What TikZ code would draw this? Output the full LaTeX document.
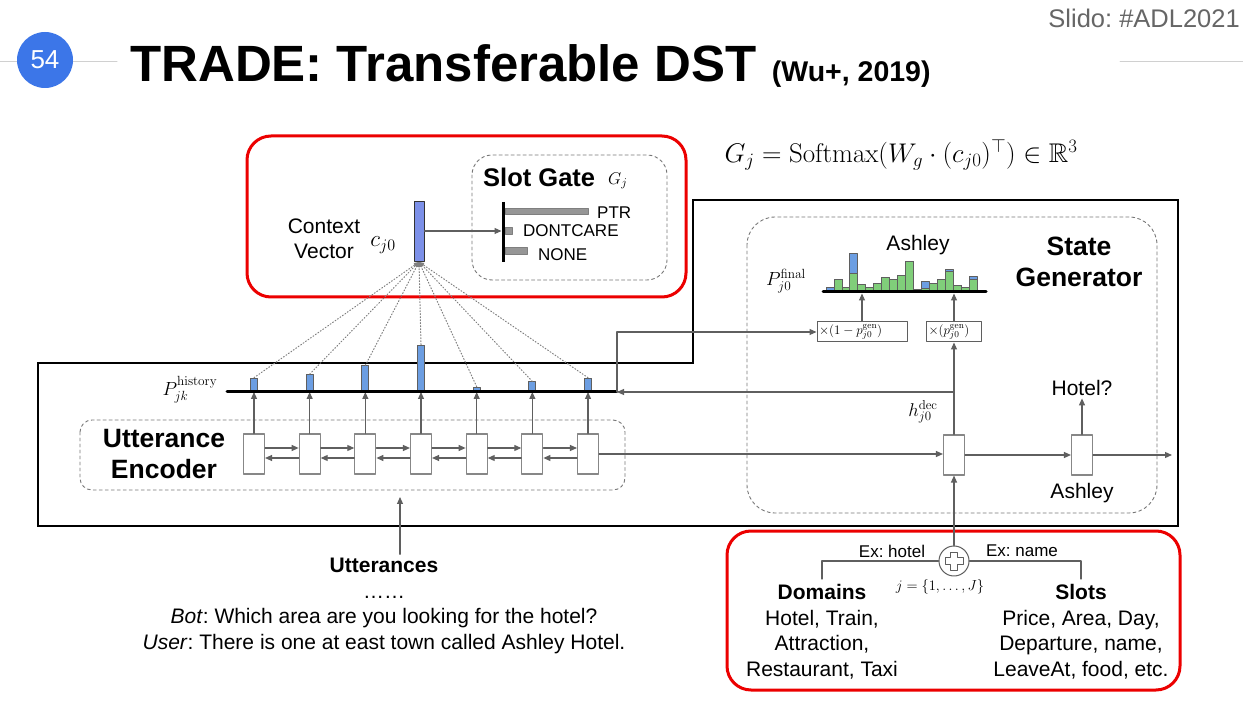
\documentclass[tikz,border=0pt]{standalone}
\usepackage{fix-cm}
\usepackage[no-math]{fontspec}
\setmainfont{Liberation Sans}
\usepackage{amssymb}
\usetikzlibrary{positioning,arrows.meta}

\definecolor{pageblue}{RGB}{60,118,232}
\definecolor{ruleline}{RGB}{208,208,208}
\definecolor{wiregray}{RGB}{95,95,95}
\definecolor{attn}{RGB}{108,158,226}
\definecolor{ctxvec}{RGB}{124,144,232}
\definecolor{genbar}{RGB}{128,206,122}
\definecolor{gatebar}{RGB}{150,150,150}
\definecolor{hilite}{RGB}{236,0,0}

\newcommand{\fsz}[2]{\fontsize{#1}{#2}\selectfont}

\tikzset{
  wire/.style={draw=wiregray,line width=1.1pt},
  feed/.style={wire,-{Triangle[length=7pt,width=6pt]}},
  cellbox/.style={draw=wiregray!75,fill=white,line width=1.1pt,
    minimum width=21pt,minimum height=40pt,inner sep=0pt},
  mixbox/.style={draw=wiregray,line width=1pt,minimum height=20pt,
    inner sep=2pt,align=left,font=\fsz{13}{15}},
  attnbar/.style={draw=wiregray,fill=attn,line width=0.9pt,
    minimum width=7pt,inner sep=0pt,anchor=south},
  gbar/.style={draw=wiregray!80,fill=gatebar,line width=0.8pt,
    inner sep=0pt,anchor=west},
  redframe/.style={draw=hilite,line width=3pt,rounded corners=24pt},
  dashframe/.style={draw=wiregray!85,dashed,line width=0.9pt,rounded corners=#1},
  dashframe/.default=20pt,
  txt/.style={inner sep=0pt,font=\fsz{21}{25.5}},
  small/.style={inner sep=0pt,font=\fsz{17}{20}},
  heading/.style={inner sep=0pt,align=center,font=\bfseries\fsz{26.5}{31.5}},
  sym/.style={inner sep=0pt,font=\fsz{19}{22}},
}

\begin{document}
\frenchspacing
\begin{tikzpicture}[x=1pt,y=-1pt,line cap=round,line join=round]
  \fill[white] (0,0) rectangle (1243,708);
  \useasboundingbox (0,0) rectangle (1243,708);

  \draw[ruleline,line width=1pt] (0,62) -- (117,62) (1120,62) -- (1243,62);
  \node[circle,fill=pageblue,minimum size=56pt,inner sep=0pt,text=white,font=\fsz{26}{26}] (pageno) at (45,60) {54};
  \node[anchor=base west,inner sep=0pt,font=\bfseries\fsz{51}{51}] (title) at (130,82) {TRADE: Transferable DST};
  \node[right=15pt of title.base east,anchor=base west,inner sep=0pt,font=\bfseries\fsz{28.5}{28}] (cite) {(Wu+, 2019)};
  \node[anchor=base east,inner sep=0pt,text=black!60,font=\fsz{25.5}{26}] (slido) at (1240,28) {Slido: \#ADL2021};

  \draw[redframe] (247,136) rectangle (686,297);
  \draw[dashframe] (472,155) rectangle (667,280);
  \node[anchor=base west,inner sep=0pt,font=\bfseries\fsz{25.5}{30}] (sgate) at (483,187) {Slot Gate};
  \node[inner sep=0pt,font=\fsz{17}{20},anchor=west] (gj) at (608,181) {$G_j$};
  \node[draw=black!80,fill=ctxvec,line width=0.9pt,minimum width=10pt,minimum height=60pt,inner sep=0pt] (cv) at (419,231.5) {};
  \node[txt,align=center] (cvtxt) at (324,239) {Context\\Vector};
  \node[inner sep=0pt,font=\fsz{23}{26}] (cj) at (383,245) {$c_{j0}$};
  \coordinate (gtop) at (503,202);
  \coordinate (gbot) at (503,262);
  \coordinate (gmid) at (503,231);
  \draw[line width=3pt,line cap=butt] (gtop) -- (gbot);
  \node[gbar,minimum width=83pt,minimum height=6pt] (ptr) at (505,211) {};
  \node[gbar,minimum width=7pt,minimum height=6.5pt] (dc) at (505,231) {};
  \node[gbar,minimum width=22pt,minimum height=6.5pt] (none) at (505,251) {};
  \node[small,anchor=west] (ptrtxt) at (597,213) {PTR};
  \node[small,anchor=west] (dctxt) at (523,231) {DONTCARE};
  \node[small,anchor=west] (nonetxt) at (538,255) {NONE};
  \draw[feed,shorten >=1.5pt] (cv.east |- gmid) -- (gmid);

  \node[inner sep=0pt,font=\fsz{27}{30}] (eq) at (901,155) {$G_j = \mathrm{Softmax}(W_g\cdot(c_{j0})^{\top})\in\mathbb{R}^3$};

  \draw[line width=2pt,line join=miter] (38,363) -- (693,363) -- (693,200) -- (1178,200) -- (1178,526) -- (38,526) -- cycle;
  \draw[dashframe=28pt] (747,217) rectangle (1157,513);
  \draw[dashframe=12pt] (80,420) rectangle (625,490);
  \node[heading] (enc) at (164,454) {Utterance\\Encoder};
  \node[heading] (sgen) at (1079,262) {State\\Generator};

  \foreach \i in {1,...,7}
    \node[cellbox] (e\i) at ({254+55.67*(\i-1)},454) {};
  \foreach \i [count=\j from 2] in {1,...,6} {
    \draw[feed] ([yshift=6pt]e\i.east) -- ([yshift=6pt]e\j.west);
    \draw[feed] ([yshift=-4pt]e\j.west) -- ([yshift=-4pt]e\i.east);
  }
  \coordinate (pl) at (227,392);
  \coordinate (pr) at (617,392);
  \foreach \i/\h in {1/13.4,2/17,3/25.7,4/46.4,5/4.4,6/9.7,7/13.4} {
    \node[attnbar,minimum height={\h*1pt}] (h\i) at (e\i.north |- pl) {};
    \draw[feed] (e\i.north) -- (h\i.south);
    \draw[dotted,wiregray!80,line width=1pt,-{Triangle[length=5pt,width=4pt]}] (h\i.north) -- (cv.south);
  }
  \draw[line width=3pt] (pl) -- (pr);
  \node[sym] (phist) at (190,390) {$P^{\mathrm{history}}_{jk}$};

  \node[cellbox] (d1) at (954,455) {};
  \node[cellbox] (d2) at (1082,455) {};
  \coordinate (gout) at (1172,455);
  \draw[feed] (e7.east) -- (e7.east -| d1.west);
  \draw[feed] (d1) -- (d2);
  \draw[feed] (d2) -- (gout);
  \node[txt] (hotelq) at (1082,388) {Hotel?};
  \node[txt] (ashout) at (1082,493) {Ashley};
  \draw[feed,shorten >=2.5pt] (d2) -- (hotelq);

  \node[mixbox,text width=86pt] (mix1) at (862,332) {$\times(1-p^{\mathrm{gen}}_{j0})$};
  \node[mixbox,text width=51pt] (mix2) at (954,332) {$\times(p^{\mathrm{gen}}_{j0})$};
  \coordinate (hl) at (823,292);
  \coordinate (hr) at (986,292);
  \foreach \g/\b [count=\k from 0] in {0/5,12.7/12.7,5/5,18.3/38.3,8/8,4.3/4.3,9/9,14.7/14.7,12.7/12.7,16.3/16.3,30.3/30.3,2.3/2.3,4/11,9/9,12.7/12.7,21/23,6.3/6.3,4.3/4.3,12.3/15.3} {
    \filldraw[fill=attn,draw=wiregray,line width=0.8pt] ({826+7.95*\k},292) rectangle ++(7.95,-\b);
    \filldraw[fill=genbar,draw=wiregray,line width=0.8pt] ({826+7.95*\k},292) rectangle ++(7.95,-\g);
  }
  \draw[line width=3pt] (hl) -- (hr);
  \node[txt] (ashhist) at (918,245) {Ashley};
  \node[sym] (pfinal) at (786,281) {$P^{\mathrm{final}}_{j0}$};
  \draw[feed,shorten >=1.5pt] (mix1.north) -- (mix1.north |- hl);
  \draw[feed,shorten >=1.5pt] (mix2.north) -- (mix2.north |- hl);
  \draw[feed] (d1.north) -- (mix2.south);
  \coordinate (hdec) at (d1.north |- pr);
  \draw[feed] (hdec) -- (pr);
  \draw[feed] (pr) |- (mix1.west);
  \node[inner sep=0pt,font=\fsz{18.5}{21}] (hdeclab) at (923,412) {$h^{\mathrm{dec}}_{j0}$};

  \node[txt,align=center,anchor=north] (utt) at (384,558.3) {\textbf{Utterances}\\……\\\textit{Bot}: Which area are you looking for the hotel?\\\textit{User}: There is one at east town called Ashley Hotel.};
  \coordinate (uin) at (400,497);
  \draw[feed] ([yshift=4pt]utt.north -| uin) -- (uin);

  \draw[redframe] (727,531) rectangle (1180,690);
  \node[circle,draw=wiregray,line width=1pt,minimum size=30pt,inner sep=0pt,fill=white] (sum) at (954,561) {};
  \draw[wiregray,line width=1pt,shift={(sum.center)}] (-3.5,-9) -- (3.5,-9) -- (3.5,-3.5) -- (9,-3.5) -- (9,3.5) -- (3.5,3.5) -- (3.5,9) -- (-3.5,9) -- (-3.5,3.5) -- (-9,3.5) -- (-9,-3.5) -- (-3.5,-3.5) -- cycle;
  \draw[feed] (sum) -- (d1);
  \coordinate (domtop) at (822,579);
  \coordinate (slottop) at (1081,579);
  \draw[wire] (sum.west) -| (domtop);
  \draw[wire] (sum.east) -| (slottop);
  \node[small] (exh) at (892,551) {Ex: hotel};
  \node[small] (exn) at (1022,551) {Ex: name};
  \node[inner sep=0pt,font=\fsz{14.5}{17}] (jrange) at (940,587) {$j=\{1,\ldots,J\}$};
  \node[txt,align=center,anchor=north] (dom) at (822,584.3) {\textbf{Domains}\\Hotel, Train,\\Attraction,\\Restaurant, Taxi};
  \node[txt,align=center,anchor=north] (slots) at (1081,584.3) {\textbf{Slots}\\Price, Area, Day,\\Departure, name,\\LeaveAt, food, etc.};
\end{tikzpicture}
\end{document}
